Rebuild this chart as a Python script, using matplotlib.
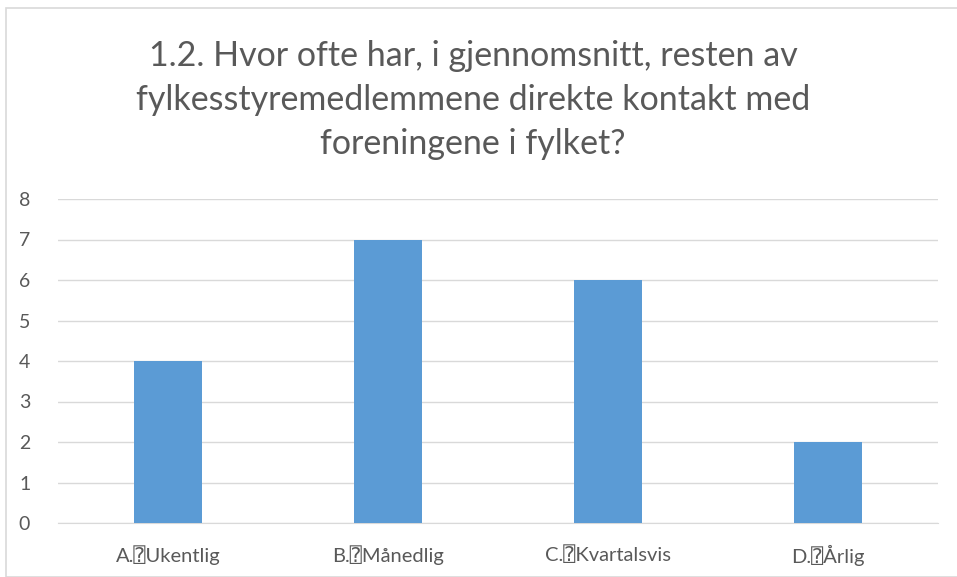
import matplotlib
matplotlib.use("Agg")
import matplotlib.pyplot as plt
from matplotlib.patches import Rectangle

categories = ["A.\u2370Ukentlig", "B.\u2370Månedlig", "C.\u2370Kvartalsvis", "D.\u2370Årlig"]
values = [4, 7, 6, 2]
yticks = [0, 1, 2, 3, 4, 5, 6, 7, 8]
title = "1.2. Hvor ofte har, i gjennomsnitt, resten av\nfylkesstyremedlemmene direkte kontakt med\nforeningene i fylket?"

W, H = 957, 577
fig = plt.figure(figsize=(W / 100, H / 100), dpi=100)
plt.rcParams['font.family'] = ['Lato', 'DejaVu Sans', 'DejaVu Sans Mono', 'Noto Sans']
txt = '#595959'

# outer frame
fig.patches.append(Rectangle((6 / W, 0), 1.0, 1 - 8 / H, transform=fig.transFigure,
                             fill=False, edgecolor='#d9d9d9', linewidth=1.2))

ax = fig.add_axes([58 / W, (H - 523) / H, 880 / W, 324 / H])
x = range(len(categories))
ax.bar(x, values, width=0.31, color='#5B9BD5', zorder=3)
ax.set_xlim(-0.5, len(categories) - 0.5)
ax.set_ylim(0, 8)
ax.set_yticks(yticks)
ax.set_yticklabels([str(v) for v in yticks], fontsize=14, color=txt)
ax.set_xticks(list(x))
ax.set_xticklabels(categories, fontsize=14.5, color=txt)
ax.grid(axis='y', color='#d9d9d9', linewidth=1, zorder=0)
for s in ['top', 'right', 'left']:
    ax.spines[s].set_visible(False)
ax.spines['bottom'].set_color('#d9d9d9')
ax.tick_params(axis='y', length=0, pad=20)
ax.tick_params(axis='x', length=0, pad=16)

fig.text(473 / W, 1 - 100 / H, title, ha='center', va='center', fontsize=24.5,
         color=txt, linespacing=1.45)

fig.savefig('out.png', dpi=100)
